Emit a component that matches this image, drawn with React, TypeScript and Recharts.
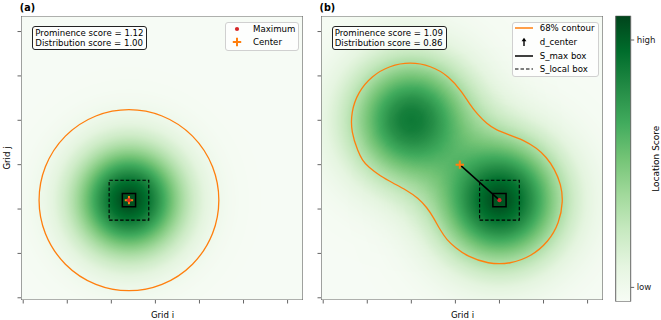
import React from 'react';
import { ScatterChart, Scatter, XAxis, YAxis, BarChart, Bar } from 'recharts';

// grid axes (64 x 64 cells, labels hidden)
const GRID_TICKS = [0, 10, 20, 30, 40, 50, 60];
const GRID_DOMAIN: [number, number] = [-0.5, 63.5];

// score field: blob centre (cell), spread (cells) and peak level
const heatA = [{ key: 'a0', i: 24, j: 22, spread: 8.5, peak: 0.97 }];
const heatB = [
  { key: 'b0', i: 20, j: 40, spread: 9.8, peak: 0.82 },
  { key: 'b1', i: 40, j: 22, spread: 9.8, peak: 0.96 },
];

const maxA = [{ i: 24, j: 22 }];
const centerA = [{ i: 24, j: 22 }];
const maxB = [{ i: 40, j: 22 }];
const centerB = [{ i: 31, j: 30 }];

// S_max / S_local boxes: centre + half width in cells
const boxesA = [{ i: 24, j: 22, half: 1.5, dashed: false }, { i: 24, j: 22, half: 4.5, dashed: true }];
const boxesB = [{ i: 40, j: 22, half: 1.5, dashed: false }, { i: 40, j: 22, half: 4.5, dashed: true }];

// 68% contours
const contourA = [{ i: 24, j: 22, radius: 20.4 }];
const contourBI = [7.94, 6.35, 6.35, 7.94, 10.98, 15.09, 19.75, 24.4, 28.5, 31.55, 33.36, 34.95, 37.15, 39.26, 41.69, 45.46, 48.5, 50.61, 52.52, 53.97, 54.47, 53.59, 51.07, 47.21, 42.46, 37.43, 32.68, 29.96, 28.07, 26.55, 24.97, 23.54, 21.56, 18.84, 15.95, 12.94, 10.21, 8.85];
const contourBJ = [32.85, 37.27, 41.96, 46.37, 49.98, 52.32, 53.13, 52.32, 49.98, 46.37, 43.44, 41.42, 39.16, 37.81, 36.91, 35.56, 33.69, 31.73, 29.02, 25.55, 21.81, 16.87, 12.55, 9.33, 7.61, 7.61, 9.33, 11.33, 13.02, 15.27, 18.2, 20.35, 22.49, 24.29, 25.8, 27.44, 29.47, 31.05];

const prominence = [1.12, 1.09];
const distribution = [1.0, 0.86];

const CB_TICKS = [0.05, 0.915];
const CB_LABELS = ['low', 'high'];
const GREENS = ['#f7fcf5', '#e5f5e0', '#c7e9c0', '#a1d99b', '#74c476', '#41ab5d', '#238b45', '#006d2c', '#00441b'];

const FONT = "'DejaVu Sans', sans-serif";
const ORANGE = '#ff7f0e';
const RED = '#d62728';
const SPINE = '#666';

const PLOT_L = 21;
const PLOT_T = 16;
const PLOT_W = 282;
const PLOT_H = 284;
const PXX = PLOT_W / 64;
const PXY = PLOT_H / 64;
const AX = 5; // room kept for the tick marks

const contourB = contourBI.map((i, k) => ({ i, j: contourBJ[k] }));
const frame = [{ i: 31.5, j: 31.5, half: 32, dashed: false }];

const corners = (b: { i: number; j: number; half: number }) => [
  { i: b.i - b.half, j: b.j - b.half },
  { i: b.i + b.half, j: b.j - b.half },
  { i: b.i + b.half, j: b.j + b.half },
  { i: b.i - b.half, j: b.j + b.half },
];

const Nothing = () => <g />;

const BlobShape = (props: any) => {
  const { cx, cy, payload } = props;
  const id = `blob-${payload.key}`;
  const stops = [];
  for (let k = 0; k <= 16; k++) {
    const t = k / 16;
    stops.push(<stop key={k} offset={t} stopColor="#000" stopOpacity={payload.peak * Math.exp(-8 * t * t)} />);
  }
  return (
    <g>
      <defs>
        <radialGradient id={id}>{stops}</radialGradient>
      </defs>
      <ellipse cx={cx} cy={cy} rx={payload.spread * 4 * PXX} ry={payload.spread * 4 * PXY} fill={`url(#${id})`} />
    </g>
  );
};

const RingShape = (props: any) => {
  const { cx, cy, payload } = props;
  return <ellipse cx={cx} cy={cy} rx={payload.radius * PXX} ry={payload.radius * PXY} fill="none" stroke={ORANGE} strokeWidth={1.3} />;
};

const PlusShape = (props: any) => {
  const { cx, cy } = props;
  const h = 4.2;
  return <path d={`M${cx - h},${cy}H${cx + h}M${cx},${cy - h}V${cy + h}`} stroke={ORANGE} strokeWidth={2} />;
};

const DotShape = (props: any) => <circle cx={props.cx} cy={props.cy} r={2.1} fill={RED} />;

const BoxSeries = (b: { i: number; j: number; half: number; dashed: boolean }, k: number, color = '#000', w = 1.5) => (
  <Scatter
    key={`box${k}`}
    data={corners(b)}
    line={{ stroke: color, strokeWidth: b.dashed ? 1.1 : w, strokeDasharray: b.dashed ? '3.5 2' : undefined, fill: 'none' }}
    lineType="joint"
    lineJointType="linearClosed"
    shape={Nothing}
    isAnimationActive={false}
  />
);

type PanelProps = {
  heat: any[];
  boxes: any[];
  maxPt: any[];
  centerPt: any[];
  ring?: any[];
  contour?: any[];
  arrow?: boolean;
};

const Panel = ({ heat, boxes, maxPt, centerPt, ring, contour, arrow }: PanelProps) => (
  <ScatterChart width={310} height={320} margin={{ top: PLOT_T, right: 310 - PLOT_L - PLOT_W, bottom: 320 - PLOT_T - PLOT_H - AX, left: PLOT_L - AX }}>
    <XAxis type="number" dataKey="i" domain={GRID_DOMAIN} ticks={GRID_TICKS} interval={0} allowDataOverflow
      tickFormatter={() => ''} axisLine={false} tickLine={{ stroke: SPINE }} tickSize={3.5} height={AX} />
    <YAxis type="number" dataKey="j" domain={GRID_DOMAIN} ticks={GRID_TICKS} interval={0} allowDataOverflow
      tickFormatter={() => ''} axisLine={false} tickLine={{ stroke: SPINE }} tickSize={3.5} width={AX} />
    <Scatter data={heat} shape={BlobShape} className="heat-layer" isAnimationActive={false} />
    {ring && <Scatter data={ring} shape={RingShape} isAnimationActive={false} />}
    {contour && (
      <Scatter data={contour} line={{ stroke: ORANGE, strokeWidth: 1.3, fill: 'none' }} lineType="joint"
        lineJointType="basisClosed" shape={Nothing} isAnimationActive={false} />
    )}
    {boxes.map((b, k) => BoxSeries(b, k))}
    {arrow && (
      <Scatter data={[centerPt[0], maxPt[0]]} line={{ stroke: '#000', strokeWidth: 1.5 }} lineType="joint"
        shape={Nothing} isAnimationActive={false} />
    )}
    <Scatter data={centerPt} shape={PlusShape} isAnimationActive={false} />
    <Scatter data={maxPt} shape={DotShape} isAnimationActive={false} />
    {frame.map((b, k) => BoxSeries(b, 10 + k, SPINE, 1.2))}
  </ScatterChart>
);

const ScoreBox = ({ left, idx }: { left: number; idx: number }) => (
  <div style={{
    position: 'absolute', left, top: 26, width: 115, height: 24, boxSizing: 'border-box',
    border: '1px solid #222', borderRadius: 3, background: 'rgba(255,255,255,0.8)',
    fontFamily: FONT, fontSize: 8.6, lineHeight: '10px', padding: '0.5px 0 0 2px', color: '#000', whiteSpace: 'nowrap',
  }}>
    <div>Prominence score = {prominence[idx].toFixed(2)}</div>
    <div>Distribution score = {distribution[idx].toFixed(2)}</div>
  </div>
);

const handles: Record<string, React.ReactNode> = {
  max: <circle cx={9} cy={5} r={2.1} fill={RED} />,
  center: <path d="M4.8,5H13.2M9,0.8V9.2" stroke={ORANGE} strokeWidth={2} />,
  contour: <line x1={0} y1={5} x2={18} y2={5} stroke={ORANGE} strokeWidth={1.5} />,
  arrow: <g><line x1={9} y1={9} x2={9} y2={3} stroke="#000" strokeWidth={1.4} /><path d="M6.6,4.2L9,0.8L11.4,4.2Z" fill="#000" /></g>,
  smax: <line x1={0} y1={5} x2={18} y2={5} stroke="#000" strokeWidth={1.5} />,
  slocal: <line x1={0} y1={5} x2={18} y2={5} stroke="#000" strokeWidth={1.2} strokeDasharray="3.5 2" />,
};

const LegendBox = ({ left, width, height, rows }: { left: number; width: number; height: number; rows: { h: string; label: string; cy: number }[] }) => (
  <div style={{
    position: 'absolute', left, top: 21.7, width, height, boxSizing: 'border-box',
    border: '1px solid #d0d0d0', borderRadius: 3, background: 'rgba(255,255,255,0.8)',
  }}>
    {rows.map((r) => (
      <div key={r.label} style={{ position: 'absolute', left: 0, top: r.cy - 21.7 - 1 - 5, height: 10, width: '100%' }}>
        <svg width={18} height={10} style={{ position: 'absolute', left: 2, top: 0, overflow: 'visible' }}>{handles[r.h]}</svg>
        <div style={{ position: 'absolute', left: 27, top: 0, fontFamily: FONT, fontSize: 8.6, lineHeight: '10px', color: '#000', whiteSpace: 'nowrap' }}>{r.label}</div>
      </div>
    ))}
  </div>
);

const App: React.FC = () => {
  const txt = { fontFamily: FONT, fontSize: 8.6, fill: '#000' };
  return (
    <div style={{ position: 'absolute', left: 0, top: 0, width: 661, height: 320, background: '#fff', overflow: 'hidden' }}>
      <style>{'.heat-layer{filter:url(#greensMap);}'}</style>
      <svg width={0} height={0} style={{ position: 'absolute' }}>
        <defs>
          <filter id="greensMap" filterUnits="userSpaceOnUse" x={PLOT_L} y={PLOT_T} width={PLOT_W} height={PLOT_H} colorInterpolationFilters="sRGB">
            <feColorMatrix type="matrix" values="0 0 0 1 0  0 0 0 1 0  0 0 0 1 0  0 0 0 0 1" />
            <feComponentTransfer>
              <feFuncR type="table" tableValues="0.9686 0.898 0.7804 0.6314 0.4549 0.2549 0.1373 0 0" />
              <feFuncG type="table" tableValues="0.9882 0.9608 0.9137 0.851 0.7686 0.6706 0.5451 0.4275 0.2667" />
              <feFuncB type="table" tableValues="0.9608 0.8784 0.7529 0.6078 0.4627 0.3647 0.2706 0.1725 0.1059" />
            </feComponentTransfer>
          </filter>
        </defs>
      </svg>

      <div style={{ position: 'absolute', left: 0, top: 0 }}>
        <Panel heat={heatA} boxes={boxesA} maxPt={maxA} centerPt={centerA} ring={contourA} />
      </div>
      <div style={{ position: 'absolute', left: 300, top: 0 }}>
        <Panel heat={heatB} boxes={boxesB} maxPt={maxB} centerPt={centerB} contour={contourB} arrow />
      </div>

      <div style={{ position: 'absolute', left: 600, top: 0 }}>
        <BarChart width={61} height={320} data={[{ name: 'cb', level: 1 }]} barCategoryGap={0}
          margin={{ top: 15.7, right: 5.3, bottom: 18.3, left: 15.7 }}>
          <defs>
            <linearGradient id="cbGreens" x1="0" y1="1" x2="0" y2="0">
              {GREENS.map((c, k) => <stop key={c} offset={k / (GREENS.length - 1)} stopColor={c} />)}
            </linearGradient>
          </defs>
          <XAxis dataKey="name" hide />
          <YAxis orientation="right" type="number" domain={[0, 1]} ticks={CB_TICKS} interval={0} allowDataOverflow
            tickFormatter={(v: number) => CB_LABELS[CB_TICKS.indexOf(v)]} axisLine={false}
            tickLine={{ stroke: SPINE }} tickSize={3.5} tickMargin={2.5} width={25}
            tick={{ fontFamily: FONT, fontSize: 8.6, fill: '#222' }} />
          <Bar dataKey="level" fill="url(#cbGreens)" stroke={SPINE} strokeWidth={1} isAnimationActive={false} />
        </BarChart>
      </div>

      <ScoreBox left={32.3} idx={0} />
      <ScoreBox left={331.7} idx={1} />
      <LegendBox left={225} width={74} height={29} rows={[
        { h: 'max', label: 'Maximum', cy: 29 },
        { h: 'center', label: 'Center', cy: 42 },
      ]} />
      <LegendBox left={511.7} width={87.3} height={55.6} rows={[
        { h: 'contour', label: '68% contour', cy: 28.3 },
        { h: 'arrow', label: 'd_center', cy: 42 },
        { h: 'smax', label: 'S_max box', cy: 55.7 },
        { h: 'slocal', label: 'S_local box', cy: 69.3 },
      ]} />

      <svg width={661} height={320} style={{ position: 'absolute', left: 0, top: 0, pointerEvents: 'none' }}>
        <text x={19.8} y={11} style={{ fontFamily: FONT, fontSize: 9.6, fontWeight: 700 }}>(a)</text>
        <text x={319.5} y={11} style={{ fontFamily: FONT, fontSize: 9.6, fontWeight: 700 }}>(b)</text>
        <text x={162.5} y={318.3} textAnchor="middle" style={txt}>Grid i</text>
        <text x={462.5} y={318.3} textAnchor="middle" style={txt}>Grid i</text>
        <text x={9.5} y={158} textAnchor="middle" transform="rotate(-90 9.5 158)" style={txt}>Grid j</text>
        <text x={659.5} y={158.7} textAnchor="middle" transform="rotate(-90 659.5 158.7)" style={{ ...txt, fontSize: 9 }}>Location Score</text>
      </svg>
    </div>
  );
};

export default App;
